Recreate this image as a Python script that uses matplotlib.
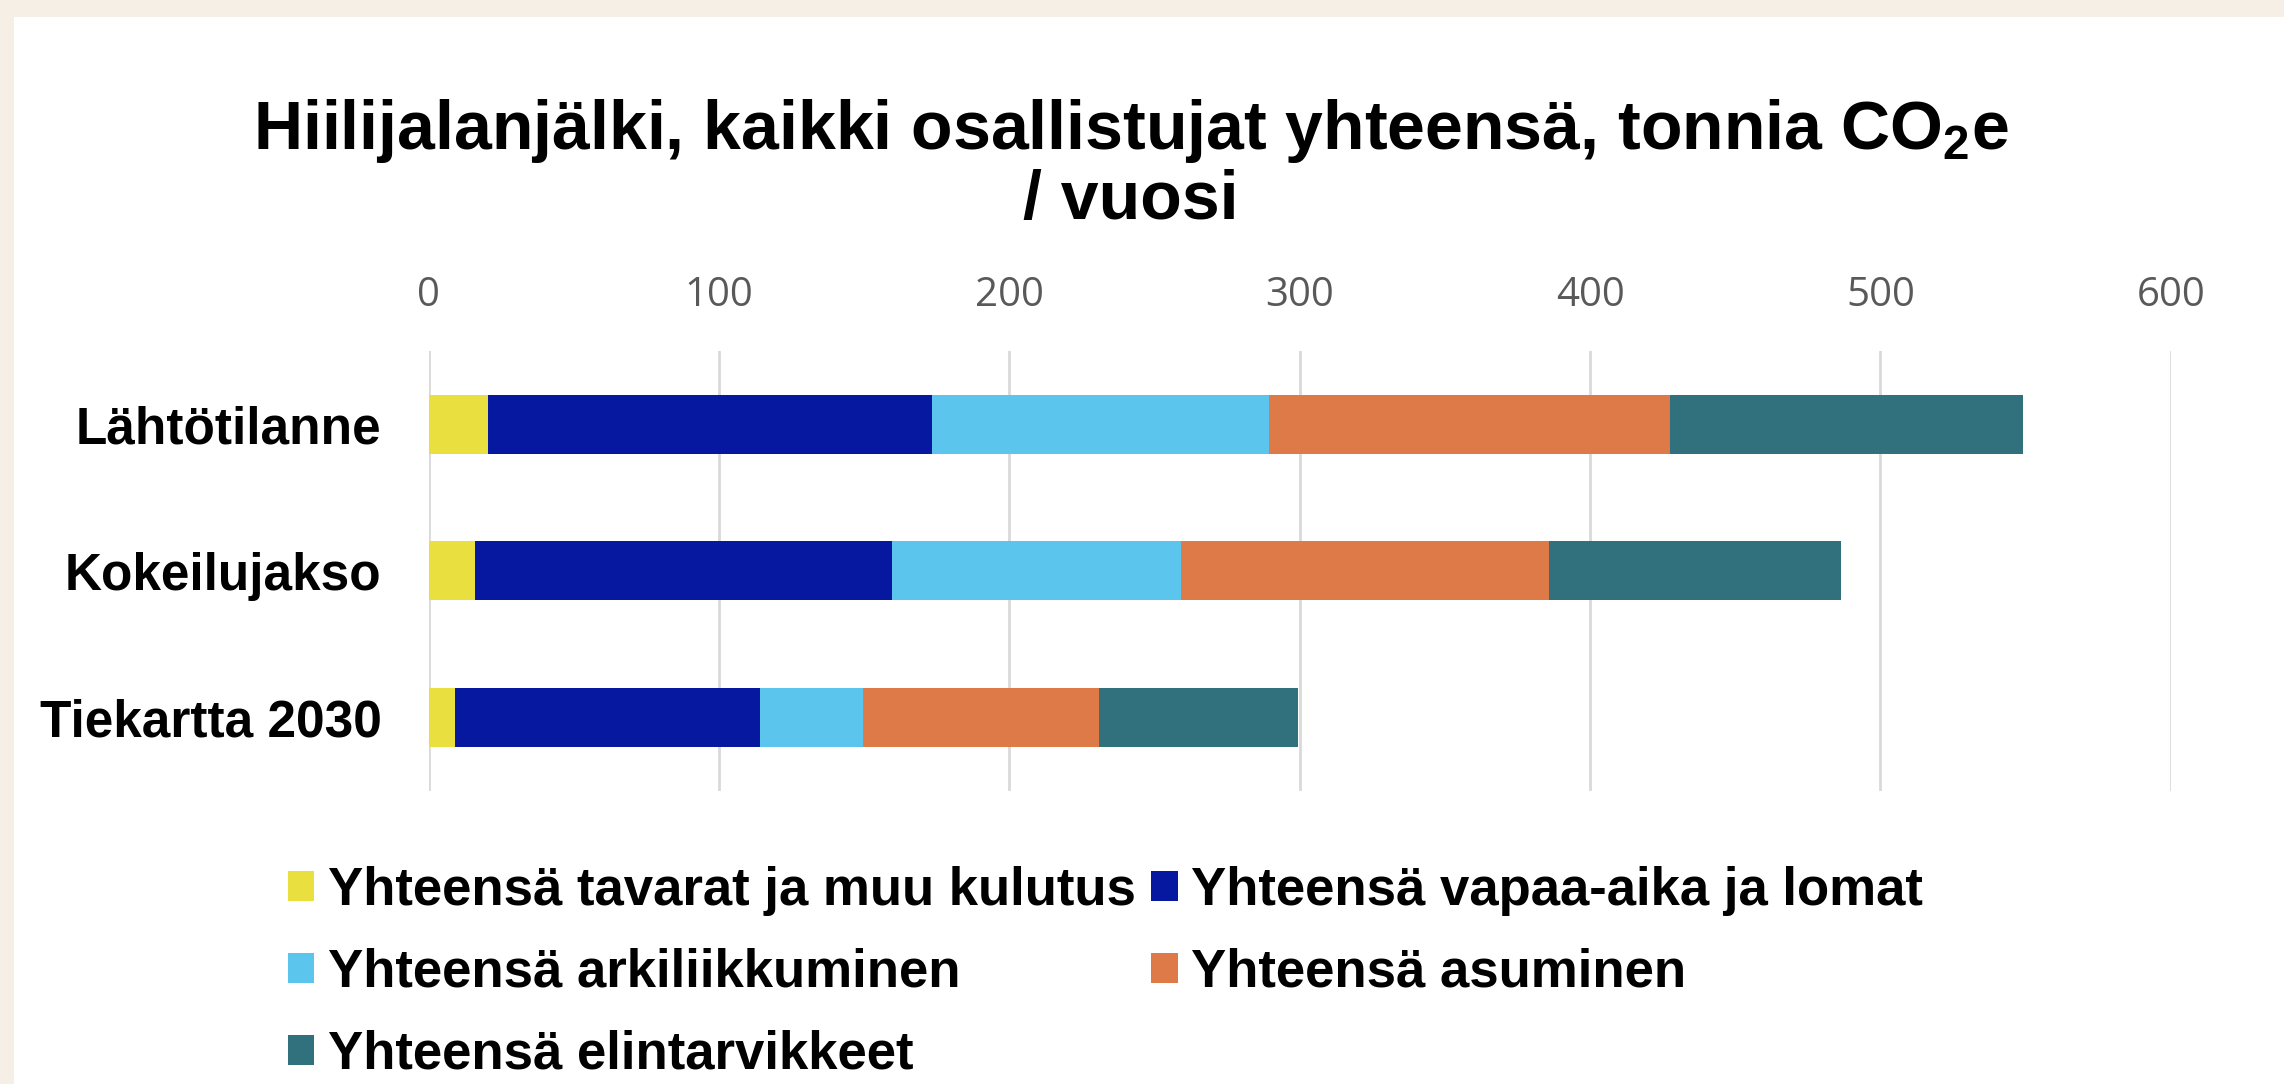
import matplotlib
matplotlib.use("Agg")
import matplotlib.pyplot as plt
from matplotlib.patches import Rectangle
import numpy as np

# ---- data ----
categories = ["Lähtötilanne", "Kokeilujakso", "Tiekartta 2030"]
series_names = [
    "Yhteensä tavarat ja muu kulutus",
    "Yhteensä vapaa-aika ja lomat",
    "Yhteensä arkiliikkuminen",
    "Yhteensä asuminen",
    "Yhteensä elintarvikkeet",
]
tavarat = [20.5, 16.0, 9.0]
vapaa_aika = [153.0, 143.4, 105.0]
arkiliikkuminen = [116.0, 99.8, 35.5]
asuminen = [138.0, 126.6, 81.5]
elintarvikkeet = [121.5, 100.8, 68.5]
x_ticks = [0, 100, 200, 300, 400, 500, 600]

colors = ["#E9E03F", "#0718A0", "#5BC5EE", "#DE7A48", "#31707D"]

plt.rcParams["font.family"] = ["Liberation Sans", "DejaVu Sans"]
plt.rcParams["mathtext.fontset"] = "custom"
plt.rcParams["mathtext.default"] = "bf"
plt.rcParams["mathtext.bf"] = "Liberation Sans:bold"
plt.rcParams["mathtext.rm"] = "Liberation Sans:bold"

W, H = 2284, 1084
fig = plt.figure(figsize=(W / 100, H / 100), dpi=100)
fig.patch.set_facecolor("#F6EFE5")
fig.patches.append(Rectangle((14 / W, 0), 1 - 14 / W, (H - 17) / H,
                             transform=fig.transFigure, facecolor="white",
                             edgecolor="none", zorder=-5))

ax = fig.add_axes([428.8 / W, (H - 790.5) / H, (2170.7 - 428.8) / W, (790.5 - 351) / H])
ax.set_facecolor("none")
ax.set_zorder(2)

y = np.arange(len(categories))
series = [tavarat, vapaa_aika, arkiliikkuminen, asuminen, elintarvikkeet]
left = np.zeros(len(categories))
handles = []
for vals, name, c in zip(series, series_names, colors):
    b = ax.barh(y, vals, left=left, height=0.406, color=c, label=name, zorder=3)
    handles.append(b)
    left += np.array(vals)

ax.set_xlim(0, 600)
ax.set_ylim(2.5, -0.5)
ax.set_xticks(x_ticks)
ax.set_xticklabels([str(t) for t in x_ticks])
ax.xaxis.tick_top()
ax.tick_params(axis="x", length=0, pad=25, labelsize=29, labelcolor="#595959")
for lab in ax.get_xticklabels():
    lab.set_family(["Open Sans", "DejaVu Sans"])
ax.set_yticks(y)
ax.set_yticklabels(categories, fontweight="bold", fontsize=37)
ax.tick_params(axis="y", length=0, pad=34)
ax.grid(axis="x", color="#D9D9D9", linewidth=2, zorder=0)
ax.set_axisbelow(True)
for s in ax.spines.values():
    s.set_visible(False)

fig.text(1131 / W, 1 - 149 / H,
         "Hiilijalanjälki, kaikki osallistujat yhteensä, tonnia CO$_2$e",
         ha="center", va="baseline", fontsize=49, fontweight="bold")
fig.text(1131 / W, 1 - 219 / H, "/ vuosi",
         ha="center", va="baseline", fontsize=49, fontweight="bold")

order = [0, 2, 4, 1, 3]
leg = fig.legend([handles[i] for i in order], [series_names[i] for i in order],
                 loc="upper left", bbox_to_anchor=(288 / W, 1 - 866 / H),
                 ncol=2, frameon=False, borderpad=0,
                 borderaxespad=0, handlelength=0.5, handleheight=0.5,
                 handletextpad=0.25, columnspacing=0.3, labelspacing=0.6,
                 prop={"weight": "bold", "size": 38})

fig.savefig("out.png", dpi=100, facecolor=fig.get_facecolor())
